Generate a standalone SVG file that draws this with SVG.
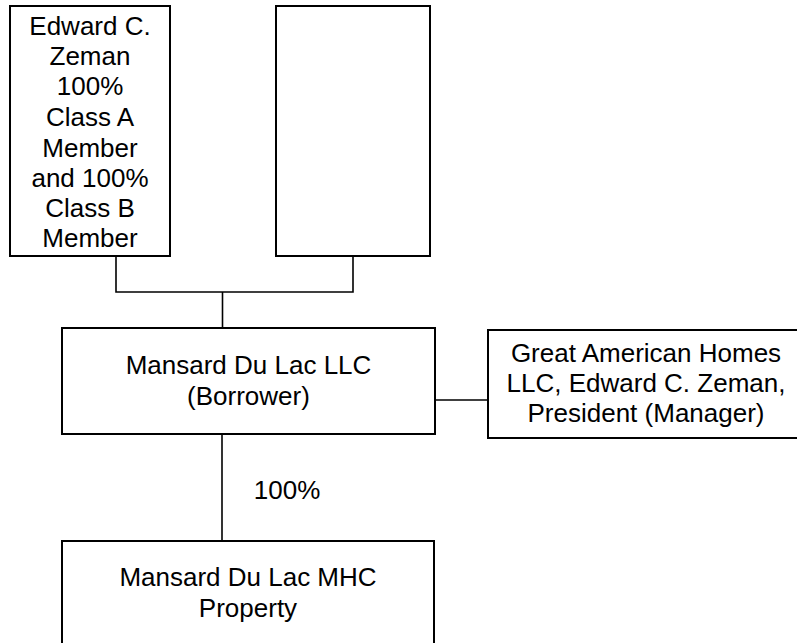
<svg xmlns="http://www.w3.org/2000/svg" width="797" height="643" viewBox="0 0 797 643">
<style>
.box{fill:#fff;stroke:#000;stroke-width:2}
.ln{fill:none;stroke:#000;stroke-width:1.6}
text{font-family:"Liberation Sans",Arial,sans-serif;font-size:26px;fill:#000;text-anchor:middle}
</style>
<rect width="797" height="643" fill="#fff"/>
<g id="connectors">
<polyline class="ln" points="116,256 116,292 353,292 353,256"/>
<line class="ln" x1="222.5" y1="292" x2="222.5" y2="328"/>
<line class="ln" x1="222" y1="434" x2="222" y2="541"/>
<line class="ln" x1="435" y1="400" x2="488" y2="400"/>
<text x="287" y="499">100%</text>
</g>
<g id="member1">
<rect class="box" x="10" y="6" width="160" height="250"/>
<text x="90" y="35">Edward C.</text>
<text x="90" y="65">Zeman</text>
<text x="90" y="95">100%</text>
<text x="90" y="126">Class A</text>
<text x="90" y="157">Member</text>
<text x="90" y="187">and 100%</text>
<text x="90" y="217">Class B</text>
<text x="90" y="247">Member</text>
</g>
<g id="member2">
<rect class="box" x="276" y="6" width="154" height="250"/>
</g>
<g id="borrower">
<rect class="box" x="62" y="328" width="373" height="106"/>
<text x="248.5" y="374">Mansard Du Lac LLC</text>
<text x="248.5" y="405">(Borrower)</text>
</g>
<g id="manager">
<rect class="box" x="488" y="330" width="316" height="108"/>
<text x="646" y="362">Great American Homes</text>
<text x="646" y="392">LLC, Edward C. Zeman,</text>
<text x="646" y="422">President (Manager)</text>
</g>
<g id="property">
<rect class="box" x="62" y="541" width="372" height="120"/>
<text x="248" y="586">Mansard Du Lac MHC</text>
<text x="248" y="617">Property</text>
</g>
</svg>
